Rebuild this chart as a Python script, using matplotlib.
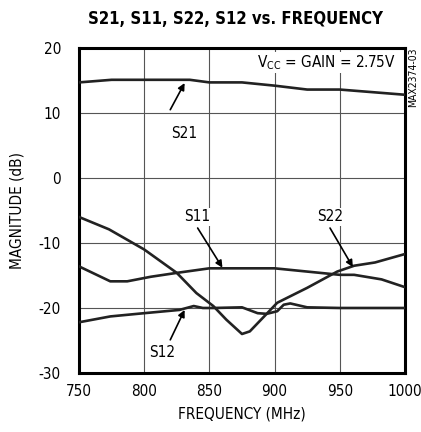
import numpy as np
import matplotlib.pyplot as plt

# frequency (MHz) / magnitude (dB) traces
s21_f = [750, 775, 800, 835, 850, 875, 900, 925, 950, 975, 1000]
s21_db = [14.7, 15.1, 15.1, 15.1, 14.7, 14.7, 14.2, 13.6, 13.6, 13.2, 12.8]

s11_f = [750, 774, 787, 805, 825, 850, 875, 900, 925, 950, 961, 982, 1000]
s11_db = [-13.6, -15.9, -15.9, -15.2, -14.6, -13.9, -13.9, -13.9, -14.4, -14.9, -14.9, -15.6, -16.8]

s22_f = [750, 773, 800, 825, 840, 853, 863, 875, 881, 892, 902, 925, 948, 961, 977, 1000]
s22_db = [-6.0, -7.9, -11.0, -14.6, -17.7, -19.7, -21.8, -24.0, -23.6, -21.3, -19.2, -16.9, -14.4, -13.5, -13.0, -11.7]

s12_f = [750, 774, 800, 827, 838, 845, 853, 875, 887, 894, 902, 907, 912, 925, 950, 1000]
s12_db = [-22.2, -21.3, -20.8, -20.3, -19.7, -20.0, -20.0, -19.9, -20.8, -20.9, -20.5, -19.5, -19.3, -19.9, -20.0, -20.0]

xticks = [750, 800, 850, 900, 950, 1000]
yticks = [-30, -20, -10, 0, 10, 20]

plt.rcParams['font.family'] = ['DejaVu Sans']
plt.rcParams['font.stretch'] = 'condensed'
plt.rcParams['axes.unicode_minus'] = False

fig = plt.figure(figsize=(4.21, 4.32), dpi=100)
ax = fig.add_axes([0.1876, 0.1366, 0.7744, 0.7524])

for f, db in [(s21_f, s21_db), (s11_f, s11_db), (s22_f, s22_db), (s12_f, s12_db)]:
    ax.plot(f, db, color='#222222', lw=1.9, zorder=3)

ax.set_xlim(750, 1000)
ax.set_ylim(-30, 20)
ax.set_xticks(xticks)
ax.set_yticks(yticks)
ax.tick_params(length=0, labelsize=11)
ax.tick_params(axis='x', pad=8)
ax.tick_params(axis='y', pad=13)
ax.grid(True, color='#555555', lw=0.8)
for s in ax.spines.values():
    s.set_linewidth(2.2)

ax.set_xlabel('FREQUENCY (MHz)', fontsize=11, labelpad=5)
ax.set_ylabel('MAGNITUDE (dB)', fontsize=11, labelpad=10)
fig.text(0.56, 0.955, 'S21, S11, S22, S12 vs. FREQUENCY', ha='center', va='center',
         fontsize=12, fontweight='bold')

box = dict(facecolor='white', edgecolor='none', pad=1)
ax.text(993, 17.8, r'V$_{\mathrm{CC}}$ = GAIN = 2.75V', ha='right', va='center',
        fontsize=11, bbox=box, zorder=4)
fig.text(0.981, 0.889, 'MAX2374-03', rotation=90, ha='center', va='top', fontsize=7.5)

arrow = dict(arrowstyle='-|>', color='black', lw=1.2, mutation_scale=10, shrinkA=0, shrinkB=0)
labels = [
    ('S21', (831, 14.6), (820, 10.5), (831, 6.8)),
    ('S11', (860, -13.8), (841, -7.7), (841, -6.0)),
    ('S22', (960, -13.7), (942.5, -7.7), (942.5, -6.0)),
    ('S12', (831, -20.3), (820, -24.9), (814, -26.8)),
]
for name, tip, tail, pos in labels:
    ax.annotate('', xy=tip, xytext=tail, arrowprops=arrow, zorder=5)
    ax.text(pos[0], pos[1], name, ha='center', va='center', fontsize=11, bbox=box, zorder=4)

fig.savefig('out.png', dpi=100)
